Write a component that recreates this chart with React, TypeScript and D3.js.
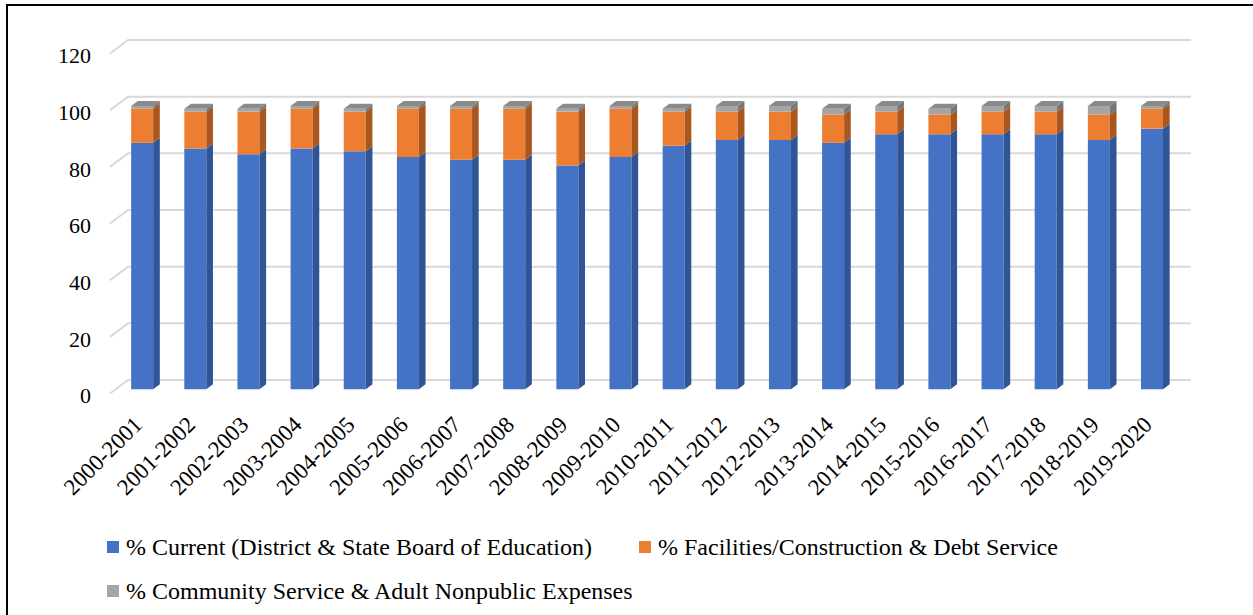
import React from "react";
import * as d3 from "d3";

const categories = [
  "2000-2001", "2001-2002", "2002-2003", "2003-2004", "2004-2005",
  "2005-2006", "2006-2007", "2007-2008", "2008-2009", "2009-2010",
  "2010-2011", "2011-2012", "2012-2013", "2013-2014", "2014-2015",
  "2015-2016", "2016-2017", "2017-2018", "2018-2019", "2019-2020",
];
const current = [87, 85, 83, 85, 84, 82, 81, 81, 79, 82, 86, 88, 88, 87, 90, 90, 90, 90, 88, 92];
const facilities = [12, 13, 15, 14, 14, 17, 18, 18, 19, 17, 12, 10, 10, 10, 8, 7, 8, 8, 9, 7];
const community = [1, 1, 1, 1, 1, 1, 1, 1, 1, 1, 1, 2, 2, 2, 2, 2, 2, 2, 3, 1];
const yTicks = [0, 20, 40, 60, 80, 100, 120];

const seriesNames = [
  "% Current (District & State Board of Education)",
  "% Facilities/Construction & Debt Service",
  "% Community Service & Adult Nonpublic Expenses",
];
const seriesValues = [current, facilities, community];
const fronts = ["#4472C4", "#ED7D31", "#A5A5A5"];
const sides = ["#2F5597", "#A9561F", "#767676"];
const tops = ["#5B85D0", "#F09352", "#8A8A8A"];

const W = 1253;
const H = 615;
const DX = 18;
const DY = 13.5;
const Z0 = 0.31;
const Z1 = 0.68;
const FONT = '"Liberation Serif", "Times New Roman", Times, serif';

export default function App() {
  const x = d3.scaleBand<string>().domain(categories).range([110, 1173]).paddingInner(0.586).paddingOuter(0.293);
  const y = d3.scaleLinear().domain([0, 120]).range([393.5, 53.5]);
  const P = (bx: number, v: number, z: number): [number, number] => [bx + z * DX, y(v) - z * DY];
  const poly = (pts: [number, number][]) => pts.map((p) => p.join(",")).join(" ");

  const stack = d3.stack<number>().keys(["0", "1", "2"]).value((i, k) => seriesValues[+k][i]);
  const stacked = stack(categories.map((_, i) => i));
  const textStyle = { fontFamily: FONT };

  return (
    <svg width={W} height={H} style={{ position: "absolute", left: 0, top: 0, background: "#fff" }}>
      <rect x={0} y={0} width={W} height={H} fill="#fff" />
      <rect x={7} y={5} width={W + 20} height={H + 20} fill="none" stroke="#000" strokeWidth={2} />
      {yTicks.map((t) => {
        const a = P(110, t, 0);
        const b = P(110, t, 1);
        const c = P(1173, t, 1);
        return (
          <g key={t}>
            <polyline points={poly([a, b, c])} fill="none" stroke="#D9D9D9" strokeWidth={2} />
            <text x={91} y={a[1]} dy="0.45em" textAnchor="end" style={textStyle} fontSize={22} fill="#000">
              {t}
            </text>
          </g>
        );
      })}
      {categories.map((c, i) => {
        const x0 = x(c)!;
        const x1 = x0 + x.bandwidth();
        const segs = stacked.map((s, k) => ({ k, lo: s[i][0], hi: s[i][1] }));
        const topSeg = segs[segs.length - 1];
        return (
          <g key={c}>
            {segs.map(({ k, lo, hi }) => (
              <g key={k}>
                <polygon
                  points={poly([P(x0, lo, Z0), P(x1, lo, Z0), P(x1, hi, Z0), P(x0, hi, Z0)])}
                  fill={fronts[k]}
                />
                <polygon
                  points={poly([P(x1, lo, Z0), P(x1, lo, Z1), P(x1, hi, Z1), P(x1, hi, Z0)])}
                  fill={sides[k]}
                />
              </g>
            ))}
            <polygon
              points={poly([P(x0, topSeg.hi, Z0), P(x1, topSeg.hi, Z0), P(x1, topSeg.hi, Z1), P(x0, topSeg.hi, Z1)])}
              fill={tops[topSeg.k]}
            />
          </g>
        );
      })}
      {categories.map((c) => {
        const cx = x(c)! + x.bandwidth() / 2 + 7;
        const cy = 426;
        return (
          <text
            key={c}
            transform={`translate(${cx},${cy}) rotate(-45)`}
            textAnchor="end"
            style={textStyle}
            fontSize={23}
            fill="#000"
          >
            {c}
          </text>
        );
      })}
      {[
        { k: 0, mx: 107, my: 547 },
        { k: 1, mx: 639, my: 547 },
        { k: 2, mx: 107, my: 591 },
      ].map(({ k, mx, my }) => (
        <g key={k}>
          <rect x={mx} y={my - 6} width={12} height={12} fill={fronts[k]} />
          <text x={mx + 19} y={my} dy="0.35em" style={textStyle} fontSize={24} fill="#000">
            {seriesNames[k]}
          </text>
        </g>
      ))}
    </svg>
  );
}
